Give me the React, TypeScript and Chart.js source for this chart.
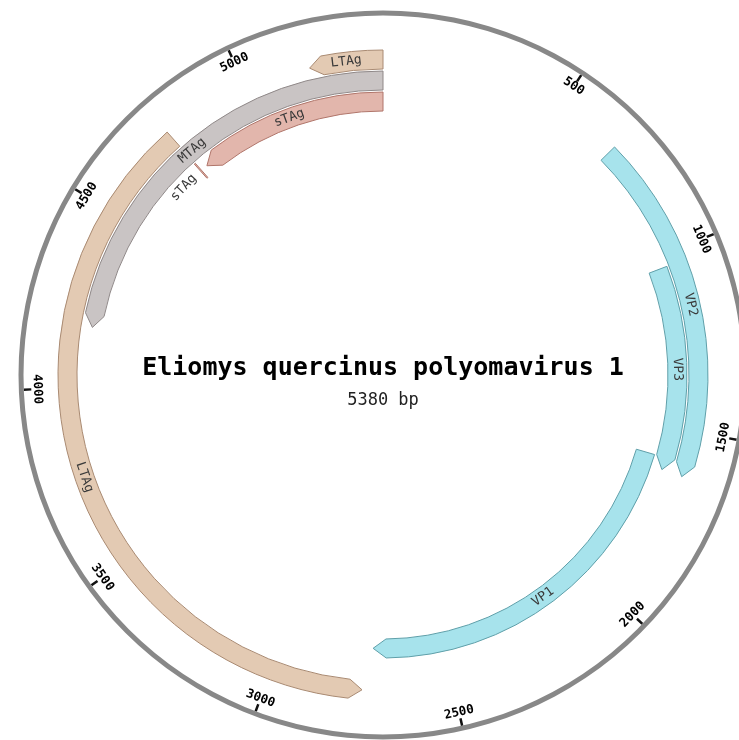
import React, { useEffect, useRef } from 'react';
import { Chart, registerables } from 'chart.js';

Chart.register(...registerables);

// ---------- data ----------
const GENOME_NAME = 'Eliomys quercinus polyomavirus 1';
const GENOME_LENGTH = 5380;
const LENGTH_LABEL = '5380 bp';

const featureNames = ['LTAg', 'LTAg', 'MTAg', 'sTAg', 'sTAg', 'VP2', 'VP3', 'VP1'];
const featureStarts = [5179, 2747, 4174, 4781, 4755, 679, 1032, 1589];
const featureEnds = [5380, 4758, 5380, 5380, 4759, 1626, 1625, 2721];
const featureStrands = [-1, -1, -1, -1, -1, 1, 1, 1];
const featureTracks = [0, 0, 1, 2, 2, 0, 1, 2];
const featureKinds = ['LTAg', 'LTAg', 'MTAg', 'sTAg', 'sTAg', 'VP', 'VP', 'VP'];

const tickValues = [500, 1000, 1500, 2000, 2500, 3000, 3500, 4000, 4500, 5000];

// ---------- styles ----------
const FILL: Record<string, string> = {
  LTAg: '#e3cab3',
  MTAg: '#c9c4c4',
  sTAg: '#e2b6ac',
  VP: '#a7e3ec',
};
const STROKE: Record<string, string> = {
  LTAg: '#a98a72',
  MTAg: '#8f8888',
  sTAg: '#b0756a',
  VP: '#5f9fa9',
};
const BACKBONE_COLOR = '#888888';
const TICK_COLOR = '#111111';
const ARROW_PX = 13;
const TICK_PX = 2.5;
const MONO = '"DejaVu Sans Mono", "Liberation Mono", monospace';

// ring layout (outer -> inner), pixel thicknesses
const OUTER_RADIUS = 364.5;
const INNER_RADIUS = 264;
const W_BACKBONE = 5;
const W_TICKS = 7.5;
const W_LABELS = 27;
const W_TRACK = 19;
const W_GAP = 2;

function buildTrack(track: number) {
  const idx = featureStarts
    .map((_, i) => i)
    .filter((i) => featureTracks[i] === track)
    .sort((a, b) => featureStarts[a] - featureStarts[b]);
  const data: number[] = [];
  const map: number[] = [];
  let pos = 0;
  for (const i of idx) {
    if (featureStarts[i] > pos) {
      data.push(featureStarts[i] - pos);
      map.push(-1);
    }
    data.push(featureEnds[i] - featureStarts[i]);
    map.push(i);
    pos = featureEnds[i];
  }
  if (pos < GENOME_LENGTH) {
    data.push(GENOME_LENGTH - pos);
    map.push(-1);
  }
  return { data, map };
}

function buildTicks() {
  const rMid = OUTER_RADIUS - W_BACKBONE - W_TICKS / 2;
  const w = (TICK_PX / (2 * Math.PI * rMid)) * GENOME_LENGTH;
  const data: number[] = [];
  const map: number[] = [];
  let pos = 0;
  tickValues.forEach((t, i) => {
    data.push(t - w / 2 - pos);
    map.push(-1);
    data.push(w);
    map.push(i);
    pos = t + w / 2;
  });
  data.push(GENOME_LENGTH - pos);
  map.push(-1);
  return { data, map };
}

function uprightRotation(deg: number) {
  if (deg <= 90) return deg;
  if (deg < 270) return deg - 180;
  return deg - 360;
}

function clockDeg(a: number) {
  let d = ((a + Math.PI / 2) * 180) / Math.PI;
  d = ((d % 360) + 360) % 360;
  return d;
}

export default function App() {
  const canvasRef = useRef<HTMLCanvasElement | null>(null);

  useEffect(() => {
    const canvas = canvasRef.current;
    if (!canvas) return;

    const tracks = [buildTrack(0), buildTrack(1), buildTrack(2)];
    const ticks = buildTicks();

    const base = { borderWidth: 0, hoverBorderWidth: 0, hoverOffset: 0, clip: false as const };
    const spacer = (w: number) => ({ ...base, data: [1], backgroundColor: 'rgba(0,0,0,0)', weight: w });

    const datasets: any[] = [
      { ...base, data: [GENOME_LENGTH], backgroundColor: BACKBONE_COLOR, weight: W_BACKBONE },
      {
        ...base,
        data: ticks.data,
        backgroundColor: ticks.map.map((m) => (m < 0 ? 'rgba(0,0,0,0)' : TICK_COLOR)),
        weight: W_TICKS,
      },
      spacer(W_LABELS),
      { ...base, data: tracks[0].data, backgroundColor: 'rgba(0,0,0,0)', weight: W_TRACK },
      spacer(W_GAP),
      { ...base, data: tracks[1].data, backgroundColor: 'rgba(0,0,0,0)', weight: W_TRACK },
      spacer(W_GAP),
      { ...base, data: tracks[2].data, backgroundColor: 'rgba(0,0,0,0)', weight: W_TRACK },
    ];
    const trackDatasetIndex = [3, 5, 7];

    const mapPlugin = {
      id: 'plasmidMap',
      afterDatasetsDraw(chart: any) {
        const ctx: CanvasRenderingContext2D = chart.ctx;
        ctx.save();

        // tick labels
        const tMeta = chart.getDatasetMeta(1);
        ctx.font = `bold 12.5px ${MONO}`;
        ctx.fillStyle = '#000';
        ctx.textAlign = 'center';
        ctx.textBaseline = 'middle';
        tMeta.data.forEach((arc: any, j: number) => {
          const ti = ticks.map[j];
          if (ti < 0) return;
          const p = arc.getProps(['x', 'y', 'startAngle', 'endAngle', 'innerRadius'], true);
          const a = (p.startAngle + p.endAngle) / 2;
          const r = p.innerRadius - 6;
          const rot = uprightRotation(clockDeg(a));
          ctx.save();
          ctx.translate(p.x + r * Math.cos(a), p.y + r * Math.sin(a));
          ctx.rotate((rot * Math.PI) / 180);
          ctx.fillText(String(tickValues[ti]), 0, 0);
          ctx.restore();
        });

        // features
        trackDatasetIndex.forEach((dsi, t) => {
          const meta = chart.getDatasetMeta(dsi);
          meta.data.forEach((arc: any, j: number) => {
            const fi = tracks[t].map[j];
            if (fi < 0) return;
            const p = arc.getProps(['x', 'y', 'startAngle', 'endAngle', 'innerRadius', 'outerRadius'], true);
            const { x, y, startAngle: a0, endAngle: a1, innerRadius: ri, outerRadius: ro } = p;
            const rm = (ri + ro) / 2;
            const arcLen = (a1 - a0) * rm;
            const kind = featureKinds[fi];
            ctx.beginPath();
            if (arcLen < ARROW_PX * 2) {
              ctx.arc(x, y, ro, a0, a1);
              ctx.arc(x, y, ri, a1, a0, true);
              ctx.closePath();
            } else {
              const la = ARROW_PX / rm;
              if (featureStrands[fi] < 0) {
                ctx.arc(x, y, ro, a0 + la, a1);
                ctx.arc(x, y, ri, a1, a0 + la, true);
                ctx.lineTo(x + rm * Math.cos(a0), y + rm * Math.sin(a0));
                ctx.closePath();
              } else {
                ctx.arc(x, y, ro, a0, a1 - la);
                ctx.lineTo(x + rm * Math.cos(a1), y + rm * Math.sin(a1));
                ctx.arc(x, y, ri, a1 - la, a0, true);
                ctx.closePath();
              }
            }
            ctx.fillStyle = FILL[kind];
            ctx.fill();
            ctx.lineWidth = 1;
            ctx.strokeStyle = STROKE[kind];
            ctx.stroke();

            // label
            ctx.font = `13px ${MONO}`;
            ctx.fillStyle = '#3a3a3a';
            ctx.textAlign = 'center';
            ctx.textBaseline = 'middle';
            const tw = ctx.measureText(featureNames[fi]).width;
            let la2 = (a0 + a1) / 2;
            if (arcLen < tw + 10) {
              la2 = a0 - (8 + tw / 2) / rm;
            }
            const rot = uprightRotation(clockDeg(la2));
            ctx.save();
            ctx.translate(x + rm * Math.cos(la2), y + rm * Math.sin(la2));
            ctx.rotate((rot * Math.PI) / 180);
            ctx.fillText(featureNames[fi], 0, 0);
            ctx.restore();
          });
        });

        // title
        const bMeta = chart.getDatasetMeta(0);
        const c = bMeta.data[0].getProps(['x', 'y'], true);
        ctx.fillStyle = '#000';
        ctx.textAlign = 'center';
        ctx.textBaseline = 'alphabetic';
        ctx.font = `bold 25px ${MONO}`;
        ctx.fillText(GENOME_NAME, c.x, c.y);
        ctx.font = `17px ${MONO}`;
        ctx.fillStyle = '#222';
        ctx.fillText(LENGTH_LABEL, c.x, c.y + 30);

        ctx.restore();
      },
    };

    const chart = new Chart(canvas, {
      type: 'doughnut',
      data: { labels: [], datasets },
      options: {
        responsive: false,
        animation: false,
        events: [],
        radius: OUTER_RADIUS,
        cutout: `${(INNER_RADIUS / OUTER_RADIUS) * 100}%`,
        layout: { padding: { left: 27, right: 0, top: 10, bottom: 0 } },
        plugins: {
          legend: { display: false },
          tooltip: { enabled: false },
          title: { display: false },
        },
      } as any,
      plugins: [mapPlugin],
    });

    return () => chart.destroy();
  }, []);

  return (
    <div
      style={{
        position: 'fixed',
        left: 0,
        top: 0,
        width: 739,
        height: 740,
        overflow: 'hidden',
        background: '#fff',
      }}
    >
      <canvas ref={canvasRef} width={739} height={740} style={{ width: 739, height: 740, display: 'block' }} />
    </div>
  );
}
